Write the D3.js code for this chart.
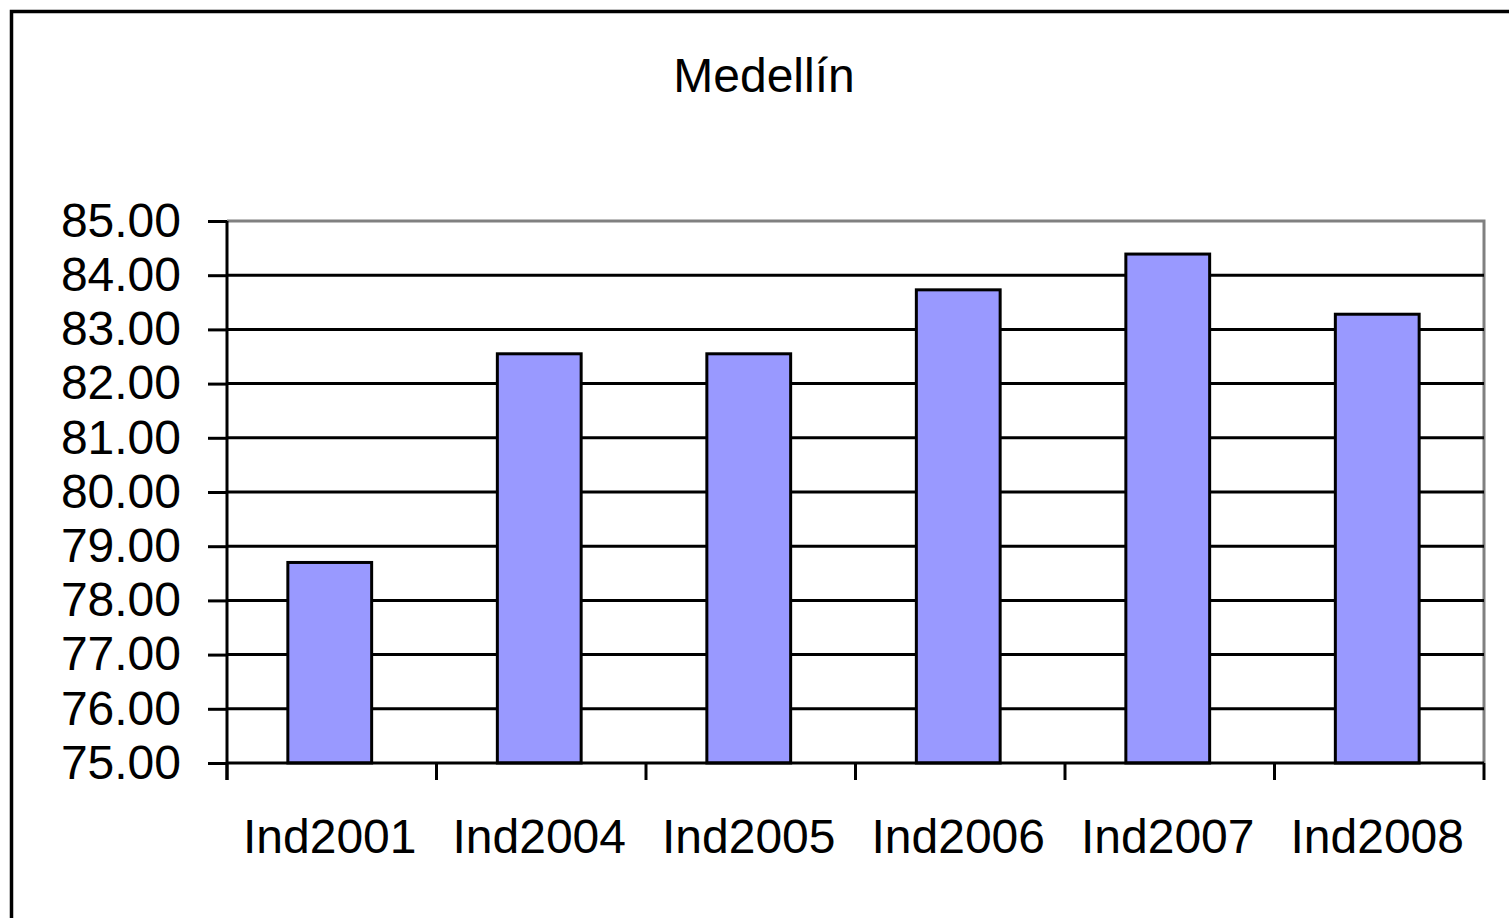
<!DOCTYPE html>
<html>
<head>
<meta charset="utf-8">
<script src="https://cdn.jsdelivr.net/npm/d3@7"></script>
<style>
  html, body { margin: 0; padding: 0; background: #fff; }
  svg { display: block; }
</style>
</head>
<body>
<div id="chart"></div>
<script>
// chart data
const categories = ['Ind2001', 'Ind2004', 'Ind2005', 'Ind2006', 'Ind2007', 'Ind2008'];
const values = [78.70, 82.55, 82.55, 83.73, 84.39, 83.28];
const yTicks = [75, 76, 77, 78, 79, 80, 81, 82, 83, 84, 85];
const title = 'Medellín';

const width = 1509, height = 918;
const plot = { left: 227, right: 1484, top: 221, bottom: 763 };
const font = 'Arial, "Liberation Sans", sans-serif';
const fontSize = '48px';

const svg = d3.select('#chart').append('svg')
    .attr('width', width)
    .attr('height', height);

// outer frame (runs off the right/bottom edge like the source)
svg.append('rect')
    .attr('x', 11.5).attr('y', 11.5)
    .attr('width', width + 10).attr('height', height + 10)
    .attr('fill', '#fff')
    .attr('stroke', '#000')
    .attr('stroke-width', 3.5);

const x = d3.scaleBand()
    .domain(categories)
    .range([plot.left, plot.right])
    .paddingInner(0.6)
    .paddingOuter(0.3);

const y = d3.scaleLinear()
    .domain([75, 85])
    .range([plot.bottom, plot.top]);

// plot area border: gray top/right
svg.append('path')
    .attr('d', `M${plot.left},${plot.top}H${plot.right}V${plot.bottom}`)
    .attr('fill', 'none')
    .attr('stroke', '#808080')
    .attr('stroke-width', 3);

// gridlines
svg.append('g')
    .selectAll('line')
    .data(yTicks.filter(d => d > 75 && d < 85))
    .enter().append('line')
    .attr('x1', plot.left).attr('x2', plot.right)
    .attr('y1', d => y(d)).attr('y2', d => y(d))
    .attr('stroke', '#000')
    .attr('stroke-width', 3);

// bars
svg.append('g')
    .selectAll('rect')
    .data(values)
    .enter().append('rect')
    .attr('x', (d, i) => x(categories[i]) - 2)
    .attr('y', d => y(d))
    .attr('width', x.bandwidth())
    .attr('height', d => y(75) - y(d))
    .attr('fill', '#9999FF')
    .attr('stroke', '#000')
    .attr('stroke-width', 3);

// y axis
const yAxis = svg.append('g')
    .attr('transform', `translate(${plot.left},0)`)
    .call(d3.axisLeft(y).tickValues(yTicks).tickFormat(d3.format('.2f')).tickSize(19).tickPadding(27));
yAxis.select('.domain').attr('stroke', '#000').attr('stroke-width', 3)
    .attr('d', `M0,${plot.top}V${plot.bottom + 17}`);
yAxis.selectAll('.tick line').attr('stroke', '#000').attr('stroke-width', 3);
yAxis.selectAll('.tick text')
    .attr('fill', '#000')
    .style('font-family', font)
    .style('font-size', fontSize);

// x axis with ticks between categories
const step = (plot.right - plot.left) / categories.length;
const xAxis = svg.append('g')
    .attr('transform', `translate(0,${plot.bottom})`);
xAxis.append('line')
    .attr('x1', plot.left).attr('x2', plot.right)
    .attr('stroke', '#000').attr('stroke-width', 3);
xAxis.selectAll('.xtick')
    .data(d3.range(categories.length + 1))
    .enter().append('line')
    .attr('x1', i => plot.left + i * step)
    .attr('x2', i => plot.left + i * step)
    .attr('y1', 0).attr('y2', 17)
    .attr('stroke', '#000').attr('stroke-width', 3);
xAxis.selectAll('.xlabel')
    .data(categories)
    .enter().append('text')
    .attr('x', d => x(d) + x.bandwidth() / 2 - 2)
    .attr('y', 90)
    .attr('text-anchor', 'middle')
    .style('font-family', font)
    .style('font-size', fontSize)
    .text(d => d);

// title
svg.append('text')
    .attr('x', 764)
    .attr('y', 92)
    .attr('text-anchor', 'middle')
    .style('font-family', font)
    .style('font-size', fontSize)
    .text(title);
</script>
</body>
</html>
